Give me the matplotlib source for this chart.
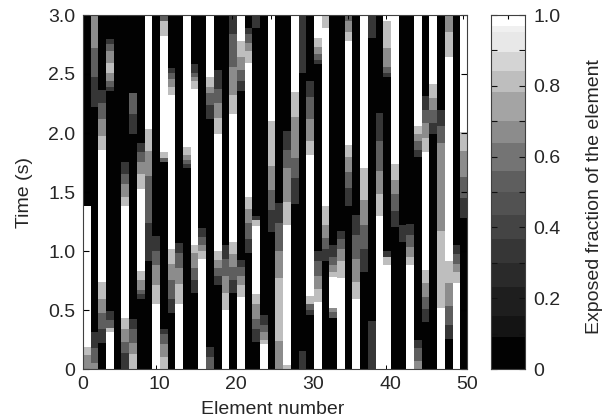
import numpy as np
import matplotlib
matplotlib.use('Agg')
import matplotlib.pyplot as plt
from matplotlib.colors import ListedColormap, BoundaryNorm

plt.rcParams['font.family'] = ['Liberation Sans', 'DejaVu Sans']

# exposed fraction levels seen in the picture
W = 1.0
B = 0.80
C = 0.66
D = 0.52
E = 0.33
K = 0.0

# one list per element, from t = 3 s downward: (time the value lasts down to, value)
element_runs = [
    [(1.38, K), (0.19, W), (0.12, B), (0, C)],
    [(2.71, C), (2.47, D), (2.21, E), (0.316, K), (0.175, E), (0.05, D), (0, C)],
    [(2.36, K), (2.25, E), (2.11, D), (1.97, C), (1.85, B), (0.734, W), (0.59, B), (0.47, C), (0.336, D), (0.22, E), (0, K)],
    [(2.788, K), (2.751, E), (2.689, D), (2.59, C), (2.506, B), (2.43, C), (2.384, D), (2.35, E), (0.49, K), (0.415, E), (0.35, D), (0.316, B), (0, W)],
    [(0, K)],
    [(1.751, K), (1.65, E), (1.56, D), (1.452, C), (1.376, B), (0.43, W), (0.336, B), (0.226, C), (0.133, D), (0, E)],
    [(2.336, K), (2.153, D), (1.989, E), (0.424, K), (0.339, E), (0.218, D), (0.124, C), (0, B)],
    [(1.912, K), (1.833, E), (1.751, D), (1.65, C), (1.52, B), (0.83, W), (0.749, B), (0.67, C), (0.63, D), (0.593, E), (0, K)],
    [(2.025, W), (1.847, B), (1.63, C), (1.234, D), (0.915, E), (0, K)],
    [(1.127, K), (0.994, E), (0.876, D), (0.712, C), (0.55, B), (0, W)],
    [(2.938, D), (2.81, B), (1.828, W), (1.78, B), (1.75, D), (0.336, K), (0.297, E), (0.215, D), (0.10, C), (0, B)],
    [(2.542, K), (2.50, E), (2.449, D), (2.384, C), (2.314, B), (1.014, W), (0.89, B), (0.749, C), (0.59, D), (0.477, E), (0, K)],
    [(1.065, K), (0.98, E), (0.853, D), (0.717, C), (0.55, B), (0, W)],
    [(1.876, W), (1.808, B), (1.77, C), (1.73, D), (1.695, E), (0, K)],
    [(2.576, K), (2.506, E), (2.47, D), (2.43, C), (2.37, B), (1.05, W), (0.98, B), (0.853, C), (0.749, D), (0.64, E), (0, K)],
    [(1.192, K), (1.113, E), (1.05, D), (1.0, C), (0.932, B), (0, W)],
    [(2.469, W), (2.384, B), (2.328, C), (2.237, D), (2.116, E), (0.19, K), (0.10, E), (0, D)],
    [(2.525, K), (2.364, E), (2.25, D), (2.124, C), (1.989, B), (0.994, W), (0.924, B), (0.853, C), (0.79, D), (0.712, E), (0, K)],
    [(1.05, K), (0.932, E), (0.79, D), (0.64, C), (0.5, B), (0, W)],
    [(2.83, E), (2.548, D), (2.316, C), (2.153, B), (1.07, W), (0.975, B), (0.867, C), (0.749, D), (0.64, E), (0, K)],
    [(2.774, W), (2.638, B), (2.528, C), (2.43, D), (2.35, E), (0.924, K), (0.867, E), (0.79, D), (0.712, C), (0.607, B), (0, W)],
    [(2.887, K), (2.83, E), (2.754, D), (2.689, C), (2.59, B), (1.452, W), (1.356, B), (1.234, C), (1.093, D), (0.98, E), (0, K)],
    [(2.986, K), (2.887, E), (1.29, K), (1.254, E), (1.21, B), (0.633, W), (0.55, B), (0.424, C), (0.339, D), (0.23, E), (0, K)],
    [(0.458, K), (0.373, E), (0.316, D), (0.246, C), (0.212, B), (0, W)],
    [(2.096, W), (1.715, B), (1.517, C), (1.339, D), (1.155, E), (0, K)],
    [(1.404, K), (1.229, E), (1.0, D), (0.768, C), (0.237, B), (0, C)],
    [(2.011, K), (1.85, E), (1.70, D), (1.412, C), (1.215, B), (0.03, W), (0, B)],
    [(2.345, W), (2.13, B), (1.785, C), (1.61, D), (1.396, E), (0, K)],
    [(2.986, K), (2.506, E), (0.153, K), (0, E)],
    [(2.43, K), (2.294, E), (2.11, D), (1.932, C), (1.808, B), (0.613, W), (0.548, B), (0.50, D), (0.458, E), (0, K)],
    [(2.794, W), (2.723, B), (2.661, C), (2.613, D), (2.576, E), (0.994, K), (0.91, E), (0.79, D), (0.675, C), (0.57, B), (0, W)],
    [(2.887, B), (1.376, W), (1.215, B), (1.107, C), (1.008, D), (0.915, E), (0, K)],
    [(1.05, K), (0.952, E), (0.873, D), (0.82, C), (0.774, B), (0.514, W), (0.48, C), (0.43, D), (0, K)],
    [(1.172, K), (1.093, E), (1.017, D), (0.91, C), (0.768, B), (0, W)],
    [(2.938, D), (2.85, C), (2.774, B), (1.893, W), (1.79, B), (1.664, C), (1.53, D), (1.376, E), (0, K)],
    [(1.305, K), (1.136, E), (0.932, D), (0.734, C), (0.59, B), (0, W)],
    [(1.695, W), (1.432, B), (1.215, C), (1.008, D), (0.82, E), (0, K)],
    [(2.986, K), (2.794, E), (0.407, K), (0, E)],
    [(2.167, K), (1.932, E), (1.672, D), (1.475, C), (1.291, B), (0, W)],
    [(2.938, W), (2.71, B), (2.548, C), (2.506, D), (2.47, E), (0.994, K), (0.952, E), (0.873, B), (0, W)],
    [(1.734, W), (1.593, B), (1.475, C), (1.333, D), (1.198, E), (0, K)],
    [(1.215, K), (1.073, E), (0, K)],
    [(1.226, K), (1.13, E), (1.037, D), (0.952, C), (0.873, B), (0, W)],
    [(2.054, W), (1.983, B), (1.932, C), (1.85, D), (1.79, E), (0.246, K), (0.175, E), (0.068, D), (0, C)],
    [(2.308, K), (2.186, E), (2.082, D), (1.955, C), (1.828, B), (0.833, W), (0.732, B), (0.605, C), (0.508, D), (0.395, E), (0, K)],
    [(2.41, W), (2.288, B), (2.186, C), (2.082, D), (1.989, E), (0, K)],
    [(2.186, K), (2.054, E), (1.91, D), (1.172, C), (0.514, B), (0, W)],
    [(2.986, K), (2.85, C), (2.633, B), (0.91, W), (0.732, B), (0.534, C), (0.373, D), (0.251, E), (0, K)],
    [(1.05, K), (0.975, E), (0.89, D), (0.82, C), (0.732, B), (0, W)],
    [(2.006, W), (1.845, B), (1.627, C), (1.446, D), (1.277, E), (0, K)],
]

# colorbar bands
level_edges = [0, .09, .15, .23, .30, .365, .435, .50, .557, .637, .70, .78, .84, .892, .948, .967, 1.0001]
level_colors = ['#020202', '#141414', '#1e1e1e', '#2a2a2a', '#363636', '#444444', '#525252', '#5e5e5e',
                '#747474', '#8c8c8c', '#a4a4a4', '#bebebe', '#d4d4d4', '#e8e8e8', '#f0f0f0', '#ffffff']

time_ticks = [0, 0.5, 1.0, 1.5, 2.0, 2.5, 3.0]
time_labels = ['0', '0.5', '1.0', '1.5', '2.0', '2.5', '3.0']
element_ticks = [0, 10, 20, 30, 40, 50]
cbar_labels = [0, 0.2, 0.4, 0.6, 0.8, 1.0]
cbar_label_text = ['0', '0.2', '0.4', '0.6', '0.8', '1.0']

# turn the runs into an image, one row per 5 ms
n_rows = 600
t_rows = (np.arange(n_rows) + 0.5) * 3.0 / n_rows
image = np.zeros((n_rows, len(element_runs)))
for i, runs in enumerate(element_runs):
    top = 3.0
    for low, val in runs:
        image[(t_rows >= low) & (t_rows < top), i] = val
        top = low

cmap = ListedColormap(level_colors)
norm = BoundaryNorm(level_edges, cmap.N)

W_PX, H_PX = 604, 419
fig = plt.figure(figsize=(W_PX / 100, H_PX / 100), dpi=100)
edge = '#404040'
text_color = '#262626'
font = 14

ax = fig.add_axes([82.5 / W_PX, 50 / H_PX, 384.5 / W_PX, 354 / H_PX])
ax.imshow(image, origin='lower', extent=[0, 50, 0, 3], aspect='auto', cmap=cmap, norm=norm,
          interpolation='nearest')
ax.set_xticks(element_ticks)
ax.set_yticks(time_ticks)
ax.set_yticklabels(time_labels)
ax.tick_params(axis='both', which='major', length=0, labelsize=font, labelcolor=text_color, pad=5)
ax.tick_params(axis='y', which='major', direction='in', length=4, width=0.8, color='black', right=True, left=True)
for i in [3, 4, 5]:
    ax.yaxis.get_major_ticks()[i].tick1line.set_color('white')
ax.set_xticks(np.arange(4.5, 50, 5), minor=True)
ax.tick_params(axis='x', which='minor', direction='in', length=3, width=0.7, color='black', top=True, bottom=True)
ax.set_xlabel('Element number', fontsize=font, color=text_color, va='center')
ax.xaxis.set_label_coords(0.494, -0.115)
ax.set_ylabel('Time (s)', fontsize=font, color=text_color, va='center')
ax.yaxis.set_label_coords(-0.152, 0.5)
for s in ax.spines.values():
    s.set_linewidth(0.8)
    s.set_color(edge)

cax = fig.add_axes([491 / W_PX, 50 / H_PX, 34 / W_PX, 354 / H_PX])
bar = np.linspace(0, 1, 1000).reshape(-1, 1)
cax.imshow(bar, origin='lower', extent=[0, 1, 0, 1], aspect='auto', cmap=cmap, norm=norm, interpolation='nearest')
cax.set_xticks([0.5])
cax.set_xticklabels([])
cax.tick_params(axis='x', direction='in', length=3, width=0.8, color='black', top=True, bottom=False)
cax.yaxis.tick_right()
cax.set_yticks(cbar_labels)
cax.set_yticklabels(cbar_label_text)
cax.set_yticks(np.arange(0.1, 1.0, 0.2), minor=True)
cax.tick_params(axis='y', which='both', direction='in', length=4, width=0.8, color='#111111',
                left=True, right=True, labelsize=font, labelcolor=text_color, pad=6)
cax.yaxis.set_label_position('right')
cax.set_ylabel('Exposed fraction of the element', fontsize=font, color=text_color, rotation=90, va='center')
cax.yaxis.set_label_coords(3.03, 0.487)
for s in cax.spines.values():
    s.set_linewidth(0.8)
    s.set_color(edge)

fig.savefig('out.png', dpi=100)
